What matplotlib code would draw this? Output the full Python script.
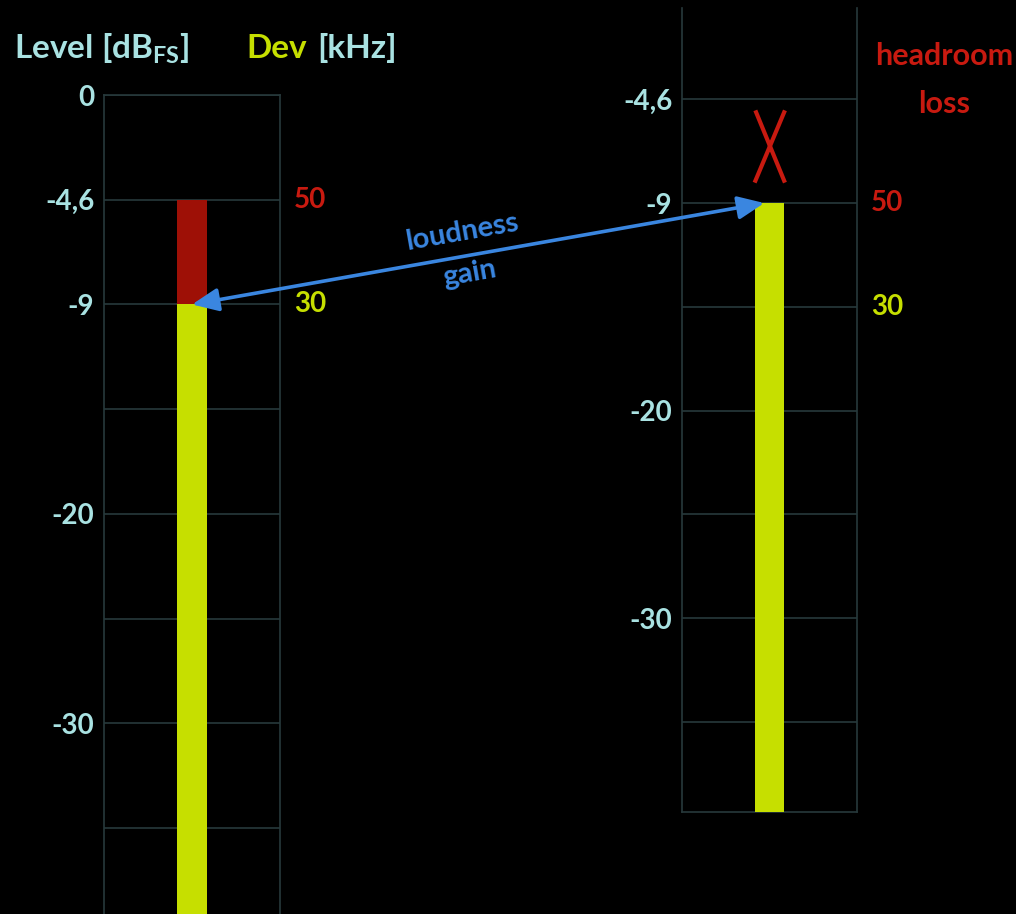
import numpy as np
import matplotlib
matplotlib.use("Agg")
import matplotlib.pyplot as plt
from matplotlib.patches import ConnectionPatch
from matplotlib.path import Path

# meter scale (dB FS) - grid lines are evenly spaced, not linear in dB
grid_db = [0, -4.6, -9, -14.5, -20, -25, -30, -35, -40]
grid_labels = ["0", "-4,6", "-9", "", "-20", "", "-30", "", ""]

# left meter: before loudness gain
before_level = -9
before_peak = -4.6
before_dev_levels = [-4.6, -9]
before_dev_labels = ["50", "30"]

# right meter: after loudness gain
after_level = -9
after_dev_levels = [-9, -14.5]
after_dev_labels = ["50", "30"]

cyan = "#a9e2e2"
yellow = "#c6df00"
red_bar = "#9e1006"
red_txt = "#c81a10"
blue = "#3a86e0"
grid_col = "#27393b"

plt.rcParams["font.family"] = ["Lato", "DejaVu Sans"]
plt.rcParams["font.weight"] = "bold"

steps = np.arange(len(grid_db))
db_arr = np.array(grid_db)


def fwd(v):
    return np.interp(-np.asarray(v, dtype=float), -db_arr, -steps)


def inv(s):
    return np.interp(-np.asarray(s, dtype=float), steps, db_arr)


def db_at_step(k):
    return float(np.interp(k, steps, db_arr))


fig = plt.figure(figsize=(10.16, 9.14), dpi=100, facecolor="black")
W, H = 1016, 914

ax1 = fig.add_axes([104 / W, 0, 176 / W, (914 - 95) / H])
ax2 = fig.add_axes([682 / W, (914 - 812) / H, 175 / W, (812 - 8) / H])

for ax in (ax1, ax2):
    ax.set_facecolor("black")
    ax.set_yscale("function", functions=(fwd, inv))
    ax.set_xlim(0, 1)
    ax.set_xticks([])
    for s in ax.spines.values():
        s.set_color(grid_col)
        s.set_linewidth(1.2)
    ax.tick_params(axis="y", length=0, pad=7, labelcolor=cyan, labelsize=20)
    ax.grid(axis="y", color=grid_col, linewidth=1.2)
    ax.set_axisbelow(True)

ax1.set_yticks(grid_db)
ax1.set_yticklabels(grid_labels)
ax1.set_ylim(db_at_step(7.82), 0)
ax1.spines["bottom"].set_visible(False)

ax2.set_yticks(grid_db[1:])
ax2.set_yticklabels(grid_labels[1:])
ax2.set_ylim(db_at_step(7.87), db_at_step(0.12))
ax2.spines["top"].set_visible(False)

bar_w = 0.17
bottom = grid_db[-1]
ax1.bar(0.5, before_level - bottom, bottom=bottom, width=bar_w, color=yellow, zorder=3)
ax1.bar(0.5, before_peak - before_level, bottom=before_level, width=bar_w,
        color=red_bar, zorder=3)
ax2.bar(0.5, after_level - bottom, bottom=bottom, width=bar_w, color=yellow, zorder=3)

# deviation labels on the right of each meter
dev_cols = [red_txt, yellow]
for ax, lv, lb in ((ax1, before_dev_levels, before_dev_labels),
                   (ax2, after_dev_levels, after_dev_labels)):
    for y, t, c in zip(lv, lb, dev_cols):
        ax.text(1.08, y, t, transform=ax.get_yaxis_transform(), color=c,
                fontsize=20, ha="left", va="center")

# crossed-out headroom on the right meter
x_mark = Path([(-0.21, 0.5), (0.2, -0.5), (0.2, 0.5), (-0.22, -0.5)],
              [Path.MOVETO, Path.LINETO, Path.MOVETO, Path.LINETO])
ax2.plot(0.5, db_at_step(1.45), marker=x_mark, ms=52,
         mec=red_txt, mfc="none", mew=3.0, clip_on=False)

# loudness gain arrow between the two meters
con = ConnectionPatch(xyA=(0.5, before_level), coordsA=ax1.transData,
                      xyB=(0.47, after_level), coordsB=ax2.transData,
                      arrowstyle="<|-|>,head_length=0.8,head_width=0.35",
                      mutation_scale=20, color=blue, lw=2.6,
                      shrinkA=0, shrinkB=0)
fig.add_artist(con)
fig.text(462 / W, 1 - 232 / H, "loudness", color=blue, fontsize=21,
         rotation=10, ha="center", va="center", rotation_mode="anchor")
fig.text(470 / W, 1 - 274 / H, "gain", color=blue, fontsize=21,
         rotation=10, ha="center", va="center", rotation_mode="anchor")

# headers
fig.text(14 / W, 1 - 58 / H, r"Level [dB$_\mathregular{FS}$]", color=cyan,
         fontsize=24, ha="left", va="baseline")
fig.text(246 / W, 1 - 58 / H, "Dev", color=yellow, fontsize=24,
         ha="left", va="baseline")
fig.text(317 / W, 1 - 58 / H, "[kHz]", color=cyan, fontsize=24,
         ha="left", va="baseline")
fig.text(944 / W, 1 - 65 / H, "headroom", color=red_txt, fontsize=22,
         ha="center", va="baseline")
fig.text(944 / W, 1 - 113 / H, "loss", color=red_txt, fontsize=22,
         ha="center", va="baseline")

fig.savefig("out.png", dpi=100, facecolor="black")
